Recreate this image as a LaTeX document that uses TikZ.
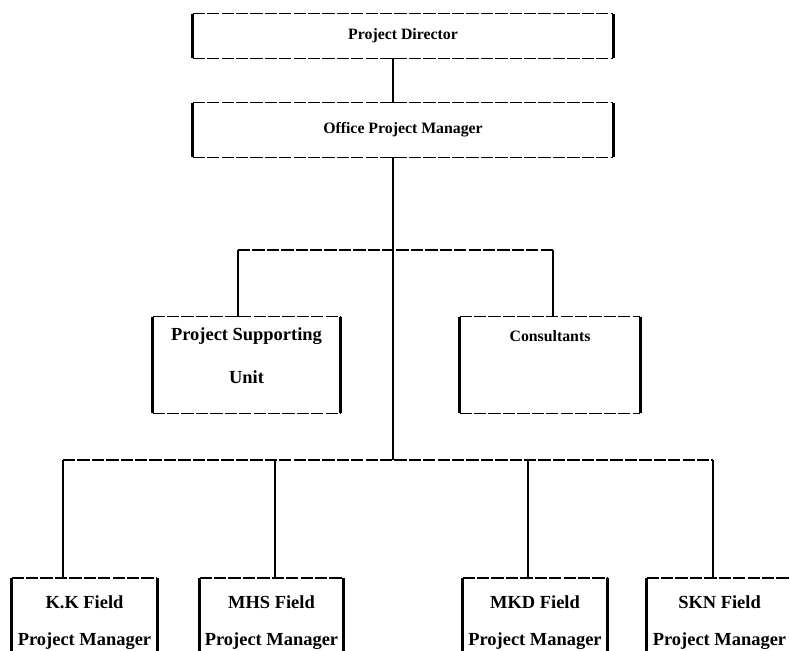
\documentclass[tikz,border=0pt]{standalone}
\usepackage{fontspec}
\setmainfont{Liberation Serif}
\usepackage{tikz}
\tikzstyle{orgbox}=[draw=none, inner sep=0pt, align=center,% frame is drawn later
font=\fontsize{9}{11}\selectfont\bfseries]
\tikzstyle{bigtext}=[font=\fontsize{10.5}{13}\selectfont\bfseries]
\tikzstyle{hline}=[line width=0.6pt, dash pattern=on 7pt off 1.2pt]
\tikzstyle{vline}=[line width=1.5pt]
\tikzstyle{fieldbox}=[orgbox, bigtext, anchor=north, minimum width=2.88cm, text height=1.34cm, text depth=3cm]

\begin{document}
\begin{tikzpicture}[x=0.02cm, y=-0.02cm]
\useasboundingbox (0,0) rectangle (790,650);
\clip (0,0) rectangle (790,650);
\node[orgbox, minimum width=8.4cm, minimum height=0.88cm] (pd) at (403,36) {Project Director};
\node[orgbox, minimum width=8.4cm, minimum height=1.08cm] (opm) at (403,130) {Office Project Manager};
\node[orgbox, bigtext, minimum width=3.74cm, minimum height=1.92cm, text height=0.82cm, text depth=0.1cm] (psu) at (246.5,365) {Project Supporting\\[11pt]Unit};
\node[orgbox, minimum width=3.6cm, minimum height=1.92cm, text height=7pt, text depth=1.17cm] (cons) at (550,365) {Consultants};
\node[fieldbox, minimum width=2.9cm] (kk) at (84.5,578) {K.K Field\\[8pt]Project Manager};
\node[fieldbox, minimum width=2.86cm] (mhs) at (271.5,578) {MHS Field\\[8pt]Project Manager};
\node[fieldbox] (mkd) at (535,578) {MKD Field\\[8pt]Project Manager};
\node[fieldbox, minimum width=2.9cm] (skn) at (719.5,578) {SKN Field\\[8pt]Project Manager};
% box frames: thin tops, heavy sides
\foreach \b in {pd,opm,psu,cons,kk,mhs,mkd,skn}{
  \draw[hline] (\b.north west) -- (\b.north east);
  \draw[hline] (\b.south west) -- (\b.south east);
  \draw[vline] (\b.north west) -- (\b.south west);
  \draw[vline] (\b.north east) -- (\b.south east);
}
\coordinate (trk) at (393,0);
\coordinate (bbar) at (393,460);
\coordinate (m1) at (238,250);
\coordinate (m2) at (553,250);
\coordinate (b1) at (63,460);
\coordinate (b2) at (275,460);
\coordinate (b3) at (528,460);
\coordinate (b4) at (713,460);
\draw[vline] (pd.south -| trk) -- (opm.north -| trk);
\draw[vline] (opm.south -| trk) -- (bbar);
\draw[hline] (m1) -- (m2);
\draw[vline] (m1) -- (m1 |- psu.north);
\draw[vline] (m2) -- (m2 |- cons.north);
\draw[hline] (b1) -- (b4);
\foreach \c/\b in {b1/kk, b2/mhs, b3/mkd, b4/skn}
  \draw[vline] (\c) -- (\c |- \b.north);
\end{tikzpicture}
\end{document}
